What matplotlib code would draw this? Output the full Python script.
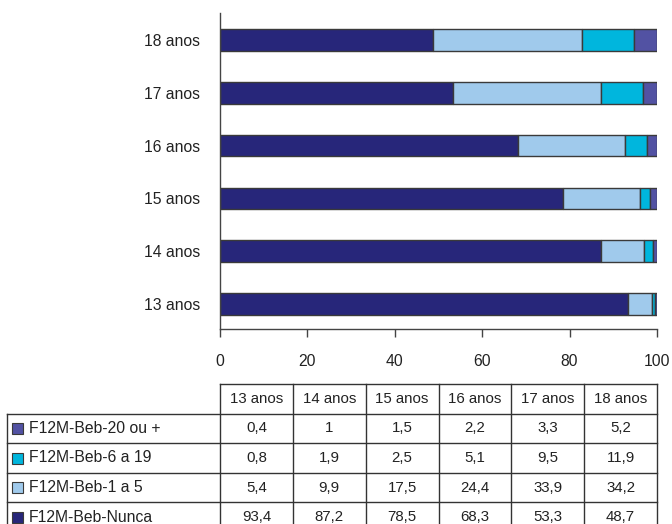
import matplotlib
matplotlib.use("Agg")
import matplotlib.pyplot as plt
from matplotlib.patches import Rectangle
import numpy as np

plt.rcParams['font.family'] = ['Liberation Sans', 'DejaVu Sans']

ages = ["13 anos", "14 anos", "15 anos", "16 anos", "17 anos", "18 anos"]
nunca = [93.4, 87.2, 78.5, 68.3, 53.3, 48.7]
beb_1_5 = [5.4, 9.9, 17.5, 24.4, 33.9, 34.2]
beb_6_19 = [0.8, 1.9, 2.5, 5.1, 9.5, 11.9]
beb_20 = [0.4, 1, 1.5, 2.2, 3.3, 5.2]

series_names = ["F12M-Beb-Nunca", "F12M-Beb-1 a 5", "F12M-Beb-6 a 19", "F12M-Beb-20 ou +"]
series_values = [nunca, beb_1_5, beb_6_19, beb_20]
colors = ["#27267A", "#A0CAEC", "#00B6DD", "#5252A3"]
edge = "#3a3a3a"

W, H = 672, 524
fig = plt.figure(figsize=(W / 100, H / 100), dpi=100)

# main stacked bar axes (pixel layout converted to figure fractions)
ax_l, ax_r, ax_t, ax_b = 220, 657, 13, 329
ax = fig.add_axes([ax_l / W, 1 - ax_b / H, (ax_r - ax_l) / W, (ax_b - ax_t) / H])

y = np.arange(len(ages))
left = np.zeros(len(ages))
for vals, c in zip(series_values, colors):
    ax.barh(y, vals, left=left, height=0.41, color=c, edgecolor=edge, linewidth=1.0)
    left += np.array(vals)

ax.set_xlim(0, 100)
ax.set_ylim(-0.47, 5.51)
ax.set_xticks([0, 20, 40, 60, 80, 100])
ax.set_yticks(y)
ax.set_yticklabels(ages)
ax.tick_params(axis='y', length=0, pad=14.4, labelsize=11.3, labelcolor="#222222")
ax.tick_params(axis='x', length=5.8, width=1.0, direction='out', pad=12,
               labelsize=11.3, color="#444444", labelcolor="#222222")
for s in ["top", "right"]:
    ax.spines[s].set_visible(False)
for s in ["left", "bottom"]:
    ax.spines[s].set_color("#444444")
    ax.spines[s].set_linewidth(1.0)

# data table below the chart, drawn in pixel coordinates
tax = fig.add_axes([0, 0, 1, 1])
tax.set_xlim(0, W)
tax.set_ylim(H, 0)
tax.axis('off')

label_x0 = 7
col_edges = np.linspace(ax_l, ax_r, len(ages) + 1)
row_h = 29.6
head_top = 384
row_edges = head_top + row_h * np.arange(len(series_names) + 2)
lc = "#333333"
lw = 1.0

# header row
tax.plot([col_edges[0], col_edges[-1]], [row_edges[0], row_edges[0]], color=lc, lw=lw)
for i, a in enumerate(ages):
    cx = (col_edges[i] + col_edges[i + 1]) / 2
    tax.text(cx, (row_edges[0] + row_edges[1]) / 2, a, ha='center', va='center',
             fontsize=10.8, color="#222222")
# horizontal lines for body rows
for r in row_edges[1:]:
    tax.plot([label_x0, col_edges[-1]], [r, r], color=lc, lw=lw)
# vertical lines
tax.plot([label_x0, label_x0], [row_edges[1], row_edges[-1]], color=lc, lw=lw)
for xe in col_edges:
    tax.plot([xe, xe], [row_edges[0], row_edges[-1]], color=lc, lw=lw)

# body rows, top row is the last series
table_order = list(reversed(range(len(series_names))))
for ri, si in enumerate(table_order):
    yc = (row_edges[ri + 1] + row_edges[ri + 2]) / 2
    tax.add_patch(Rectangle((12, yc - 5.5), 11, 11, facecolor=colors[si],
                            edgecolor=edge, linewidth=0.8))
    tax.text(29, yc, series_names[si], ha='left', va='center', fontsize=11.3,
             color="#222222")
    for ci, v in enumerate(series_values[si]):
        cx = (col_edges[ci] + col_edges[ci + 1]) / 2
        txt = (f"{v:g}").replace('.', ',')
        tax.text(cx, yc, txt, ha='center', va='center', fontsize=10.8, color="#222222")

fig.savefig("out.png", dpi=100)
